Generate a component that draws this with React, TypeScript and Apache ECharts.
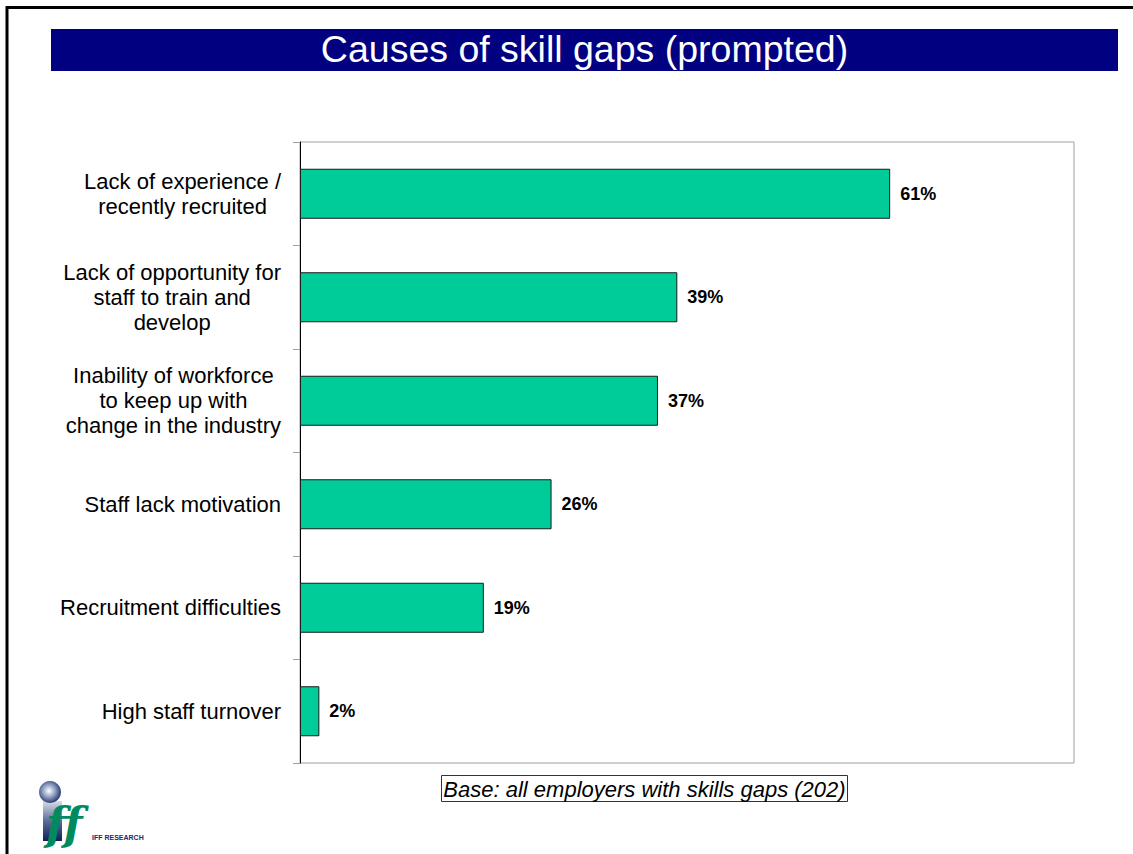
import React, { useEffect, useRef } from "react";
import * as echarts from "echarts";

const categories: string[] = [
  "Lack of experience /\nrecently recruited",
  "Lack of opportunity for\nstaff to train and\ndevelop",
  "Inability of workforce\nto keep up with\nchange in the industry",
  "Staff lack motivation",
  "Recruitment difficulties",
  "High staff turnover",
];
const values: number[] = [61, 39, 37, 26, 19, 2];
const titleText = "Causes of skill gaps (prompted)";
const baseText = "Base: all employers with skills gaps (202)";
const FONT = "'Liberation Sans', Arial, Helvetica, sans-serif";

export default function App() {
  const ref = useRef<HTMLDivElement>(null);
  useEffect(() => {
    if (!ref.current) return;
    const chart = echarts.init(ref.current, null, { renderer: "svg" });
    chart.setOption({
      animation: false,
      backgroundColor: "#ffffff",
      grid: {
        left: 300,
        top: 142,
        width: 774,
        height: 621,
        show: true,
        borderColor: "#a0a0a0",
        borderWidth: 1,
        backgroundColor: "transparent",
      },
      xAxis: {
        type: "value",
        min: 0,
        max: 80,
        show: false,
        splitLine: { show: false },
      },
      yAxis: {
        type: "category",
        data: categories,
        inverse: true,
        axisLine: { show: true, lineStyle: { color: "#000", width: 1 } },
        axisTick: { show: true, length: 7, lineStyle: { color: "#a0a0a0" } },
        splitLine: { show: false },
        axisLabel: {
          margin: 19,
          color: "#000",
          fontFamily: FONT,
          fontSize: 22,
          lineHeight: 25,
          formatter: (v: string) =>
            v
              .split("\n")
              .map((s) => `{c|${s}}`)
              .join("\n"),
          rich: {
            c: {
              align: "center",
              fontFamily: FONT,
              fontSize: 22,
              lineHeight: 25,
              color: "#000",
            },
          },
        },
      },
      series: [
        {
          type: "bar",
          data: values,
          barWidth: 50,
          itemStyle: { color: "#00CC99", borderColor: "#1a1a1a", borderWidth: 1 },
          label: {
            show: true,
            position: "right",
            distance: 10,
            formatter: "{c}%",
            fontFamily: FONT,
            fontWeight: "bold",
            fontSize: 18,
            color: "#000",
          },
        },
      ],
      graphic: [
        // page border
        { type: "line", shape: { x1: 6, y1: 7.5, x2: 1133, y2: 7.5 }, style: { stroke: "#000", lineWidth: 3 } },
        { type: "line", shape: { x1: 7, y1: 6, x2: 7, y2: 854 }, style: { stroke: "#000", lineWidth: 3 } },
        // title bar
        { type: "rect", shape: { x: 51, y: 29, width: 1067, height: 42 }, style: { fill: "#000080" } },
        {
          type: "text",
          x: 584.5,
          y: 49,
          style: {
            text: titleText,
            fill: "#ffffff",
            font: `37.5px ${FONT}`,
            align: "center",
            verticalAlign: "middle",
          },
        },
        // base box
        { type: "rect", shape: { x: 441.5, y: 775.5, width: 406, height: 26 }, style: { fill: "none", stroke: "#333", lineWidth: 1 } },
        {
          type: "text",
          x: 644.5,
          y: 789,
          style: {
            text: baseText,
            fill: "#000",
            font: `italic 22px ${FONT}`,
            align: "center",
            verticalAlign: "middle",
          },
        },
        // logo
        {
          type: "rect",
          shape: { x: 43, y: 801, width: 19, height: 40 },
          style: {
            fill: new echarts.graphic.LinearGradient(0, 0, 0, 1, [
              { offset: 0, color: "#d8dde8" },
              { offset: 0.5, color: "#5a6c98" },
              { offset: 1, color: "#10205a" },
            ]),
          },
        },
        {
          type: "circle",
          shape: { cx: 50, cy: 792, r: 11 },
          style: {
            fill: new echarts.graphic.RadialGradient(0.45, 0.45, 0.6, [
              { offset: 0, color: "#ffffff" },
              { offset: 0.5, color: "#8a9ac0" },
              { offset: 1, color: "#1a2a60" },
            ]),
          },
        },
        {
          type: "text",
          x: 46,
          y: 845,
          style: {
            text: "ff",
            fill: "#008a5e",
            font: `italic bold 44px 'DejaVu Serif', serif`,
            align: "left",
            verticalAlign: "bottom",
          },
        },
        {
          type: "text",
          x: 92,
          y: 837,
          style: {
            text: "IFF RESEARCH",
            fill: "#1a2a6a",
            font: `900 7px ${FONT}`,
            align: "left",
            verticalAlign: "middle",
          },
        },
      ],
    });
    return () => chart.dispose();
  }, []);
  return (
    <div
      ref={ref}
      style={{ position: "fixed", left: 0, top: 0, width: 1133, height: 854, background: "#fff" }}
    />
  );
}
